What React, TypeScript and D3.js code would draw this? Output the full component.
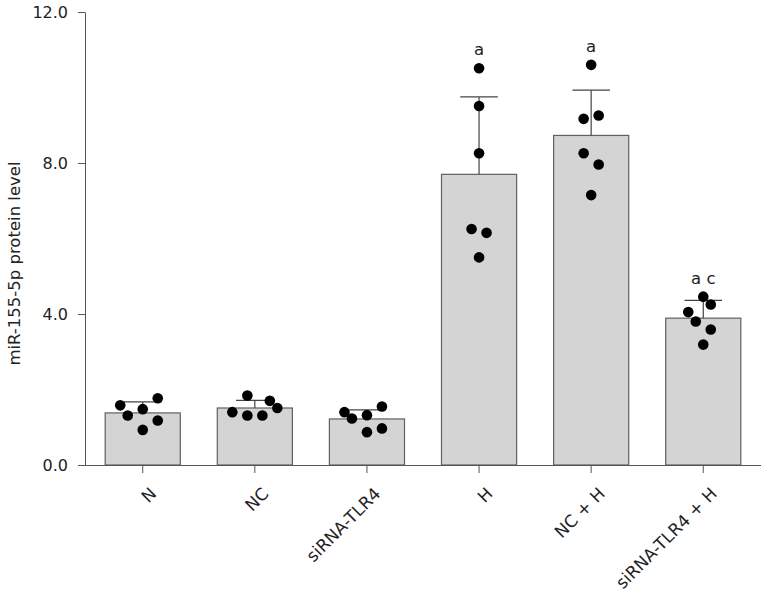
import React, { useEffect, useRef } from 'react';
import * as d3 from 'd3';

// groups on the x axis
const groups = ['N', 'NC', 'siRNA-TLR4', 'H', 'NC + H', 'siRNA-TLR4 + H'];
// bar height (mean) and top of the error bar
const means = [1.38, 1.51, 1.22, 7.7, 8.73, 3.89];
const errTops = [1.67, 1.71, 1.46, 9.75, 9.93, 4.36];
// individual samples per group
const points = [
  [1.58, 1.31, 1.48, 1.77, 1.18, 0.93],
  [1.84, 1.7, 1.51, 1.4, 1.31, 1.31],
  [1.55, 1.4, 1.23, 1.32, 0.97, 0.87],
  [10.51, 9.51, 8.26, 6.25, 6.15, 5.5],
  [10.6, 9.17, 9.26, 8.26, 7.96, 7.15],
  [4.46, 4.25, 4.05, 3.8, 3.59, 3.19],
];
// swarm column of each sample
const cols = [
  [-3, -2, 0, 2, 2, 0],
  [-1, 2, 3, -3, -1, 1],
  [2, -3, -2, 0, 2, 0],
  [0, 0, 0, -1, 1, 0],
  [0, -1, 1, -1, 1, 0],
  [0, 1, -2, -1, 1, 0],
];
const letters = ['', '', '', 'a', 'a', 'a c'];
const yTicks = [0, 4, 8, 12];

const W = 761;
const H = 593;

export default function App() {
  const ref = useRef<SVGSVGElement>(null);

  useEffect(() => {
    const svg = d3.select(ref.current);
    svg.selectAll('*').remove();

    const font = 'DejaVu Sans, Verdana, sans-serif';
    const axisCol = '#555';

    const x = d3.scaleBand().domain(groups).range([85, 761]).paddingInner(0.33).paddingOuter(0.18);
    const y = d3.scaleLinear().domain([0, 12]).range([465, 12]);
    const step = 7.5;

    // y axis
    const ya = svg.append('g')
      .attr('transform', 'translate(85,0)')
      .call(d3.axisLeft(y).tickValues(yTicks).tickFormat(d3.format('.1f')).tickSize(7).tickSizeOuter(0).tickPadding(10));
    ya.select('.domain').attr('stroke', axisCol);
    ya.selectAll('line').attr('stroke', axisCol);
    ya.selectAll('text').attr('font-family', font).attr('font-size', 16).attr('fill', '#222');

    // y title
    svg.append('text')
      .attr('transform', `translate(20,${(y(0) + y(12)) / 2 + 25}) rotate(-90)`)
      .attr('text-anchor', 'middle')
      .attr('font-family', font)
      .attr('font-size', 16.5)
      .attr('fill', '#222')
      .text('miR-155-5p protein level');

    // bars
    svg.append('g').selectAll('rect')
      .data(groups)
      .enter()
      .append('rect')
      .attr('x', d => x(d)!)
      .attr('y', (d, i) => y(means[i]))
      .attr('width', x.bandwidth())
      .attr('height', (d, i) => y(0) - y(means[i]))
      .attr('fill', '#d4d4d4')
      .attr('stroke', '#606060')
      .attr('stroke-width', 1.2);

    // error bars (upper only)
    const eb = svg.append('g').attr('stroke', '#444').attr('stroke-width', 1.2);
    groups.forEach((g, i) => {
      const cx = x(g)! + x.bandwidth() / 2;
      eb.append('line').attr('x1', cx).attr('x2', cx).attr('y1', y(means[i])).attr('y2', y(errTops[i]));
      eb.append('line').attr('x1', cx - x.bandwidth() / 4).attr('x2', cx + x.bandwidth() / 4)
        .attr('y1', y(errTops[i])).attr('y2', y(errTops[i]));
    });

    // x axis
    const xa = svg.append('g')
      .attr('transform', `translate(0,${y(0)})`)
      .call(d3.axisBottom(x).tickSize(8).tickSizeOuter(0));
    xa.select('.domain').attr('d', `M78,0.5H761`).attr('stroke', axisCol);
    xa.selectAll('line').attr('stroke', axisCol);
    xa.selectAll('text')
      .attr('font-family', font)
      .attr('font-size', 17)
      .attr('fill', '#222')
      .attr('text-anchor', 'end')
      .attr('dy', 0)
      .attr('transform', 'translate(7,22) rotate(-45)');

    // sample dots
    const dots = svg.append('g').attr('fill', '#000');
    groups.forEach((g, i) => {
      const cx = x(g)! + x.bandwidth() / 2;
      points[i].forEach((v, j) => {
        dots.append('circle').attr('cx', cx + cols[i][j] * step).attr('cy', y(v)).attr('r', 5.3);
      });
    });

    // significance letters
    groups.forEach((g, i) => {
      if (!letters[i]) return;
      const cx = x(g)! + x.bandwidth() / 2;
      const top = Math.max(errTops[i], d3.max(points[i])!);
      svg.append('text')
        .attr('x', cx)
        .attr('y', y(top) - 13)
        .attr('text-anchor', 'middle')
        .attr('font-family', font)
        .attr('font-size', 16.5)
        .attr('fill', '#222')
        .text(letters[i]);
    });
  }, []);

  return (
    <div>
      <svg ref={ref} width={W} height={H} style={{ position: 'absolute', left: 0, top: 0, background: '#fff' }} />
    </div>
  );
}
